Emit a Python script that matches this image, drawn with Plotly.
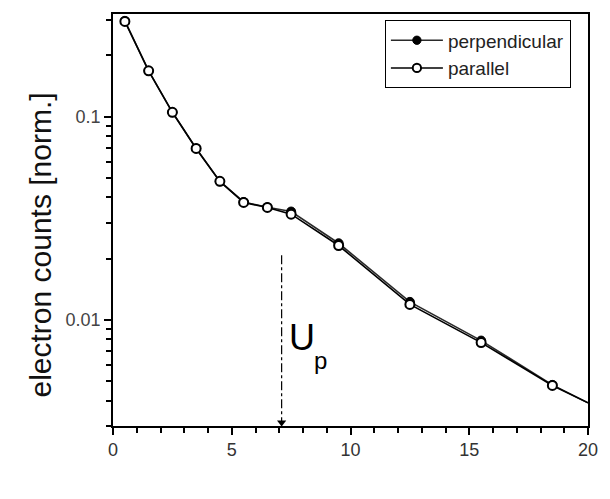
import math
import plotly.graph_objects as go

# Electron energy (x) and normalised counts for the two polarisation geometries
energy = [0.5, 1.5, 2.5, 3.5, 4.5, 5.5, 6.5, 7.5, 9.5, 12.5, 15.5, 18.5, 20.0]
counts_perpendicular = [0.296, 0.168, 0.105, 0.0697, 0.048, 0.038, 0.0358,
                        0.0341, 0.0238, 0.01225, 0.0079, 0.00478, 0.0039]
counts_parallel = [0.294, 0.168, 0.105, 0.0697, 0.048, 0.0378, 0.0357,
                   0.0331, 0.0232, 0.0119, 0.00772, 0.00475, 0.0039]

# Ponderomotive energy marker
u_p = 7.1

x_ticks = [0, 5, 10, 15, 20]
y_ticks = [0.01, 0.1]
y_tick_text = ["0.01", "0.1"]
y_minor = [0.003, 0.004, 0.005, 0.006, 0.007, 0.008, 0.009,
           0.02, 0.03, 0.04, 0.05, 0.06, 0.07, 0.08, 0.09, 0.2, 0.3]
y_title = "electron counts [norm.]"

FONT = "Liberation Sans, Arial, sans-serif"

# last sample only continues the line, no marker
sizes = [9] * (len(energy) - 1) + [0]

fig = go.Figure()
fig.add_trace(go.Scatter(
    x=energy, y=counts_perpendicular, name="perpendicular",
    mode="lines+markers",
    line=dict(color="#2a2a2a", width=1.6),
    marker=dict(symbol="circle", size=sizes, color="black", opacity=1,
                line=dict(color="black", width=1)),
))
fig.add_trace(go.Scatter(
    x=energy, y=counts_parallel, name="parallel",
    mode="lines+markers",
    line=dict(color="black", width=1.6),
    marker=dict(symbol="circle", size=sizes, color="white", opacity=1,
                line=dict(color="black", width=2)),
))

# dash-dot marker line at U_p with a downward arrowhead on the axis
fig.add_shape(type="line", xref="x", yref="y",
              x0=u_p, x1=u_p, y0=0.0208, y1=0.0031,
              line=dict(color="black", width=1.2, dash="dashdot"))
fig.add_trace(go.Scatter(
    x=[u_p], y=[0.00312], mode="markers", showlegend=False,
    marker=dict(symbol="triangle-down", size=8, color="black"),
    hoverinfo="skip",
))

fig.add_annotation(x=7.94, y=math.log10(0.00817), xref="x", yref="y",
                   text="U", showarrow=False,
                   font=dict(family=FONT, size=36, color="black"))
fig.add_annotation(x=8.75, y=math.log10(0.0063), xref="x", yref="y",
                   text="p", showarrow=False,
                   font=dict(family=FONT, size=24, color="black"))

# y-axis title, placed a little below the axis centre
fig.add_annotation(x=-0.152, y=0.44, xref="paper", yref="paper",
                   text=y_title, textangle=-90, showarrow=False,
                   xanchor="center", yanchor="middle",
                   font=dict(family=FONT, size=30, color="#111"))

fig.update_layout(
    width=610, height=499,
    margin=dict(l=113, r=16, t=13, b=73),
    paper_bgcolor="white", plot_bgcolor="white",
    font=dict(family=FONT, color="#222"),
    showlegend=True,
    legend=dict(
        x=0.572, y=0.985, xanchor="left", yanchor="top",
        bordercolor="black", borderwidth=1.2, bgcolor="white",
        font=dict(family=FONT, size=19, color="#222"),
        itemwidth=52, tracegroupgap=0,
    ),
)

fig.update_xaxes(
    range=[0, 20], tickvals=x_ticks, ticktext=[str(v) for v in x_ticks],
    ticks="outside", ticklen=7, tickwidth=1.5, tickcolor="black",
    minor=dict(dtick=1, ticks="outside", ticklen=5, tickwidth=1.5,
               tickcolor="black", showgrid=False),
    showline=True, linecolor="black", linewidth=1.5, mirror=True,
    showgrid=False, zeroline=False,
    tickfont=dict(family=FONT, size=18, color="#333"),
)

fig.update_yaxes(
    type="log", range=[math.log10(0.003), -0.495],
    tickvals=y_ticks, ticktext=y_tick_text,
    ticks="outside", ticklen=7, tickwidth=1.5, tickcolor="black",
    minor=dict(tickvals=y_minor, ticks="outside", ticklen=5, tickwidth=1.5,
               tickcolor="black", showgrid=False),
    showline=True, linecolor="black", linewidth=1.5, mirror=True,
    showgrid=False, zeroline=False,
    tickfont=dict(family=FONT, size=18, color="#444"),
)

fig.write_html("out.html")
